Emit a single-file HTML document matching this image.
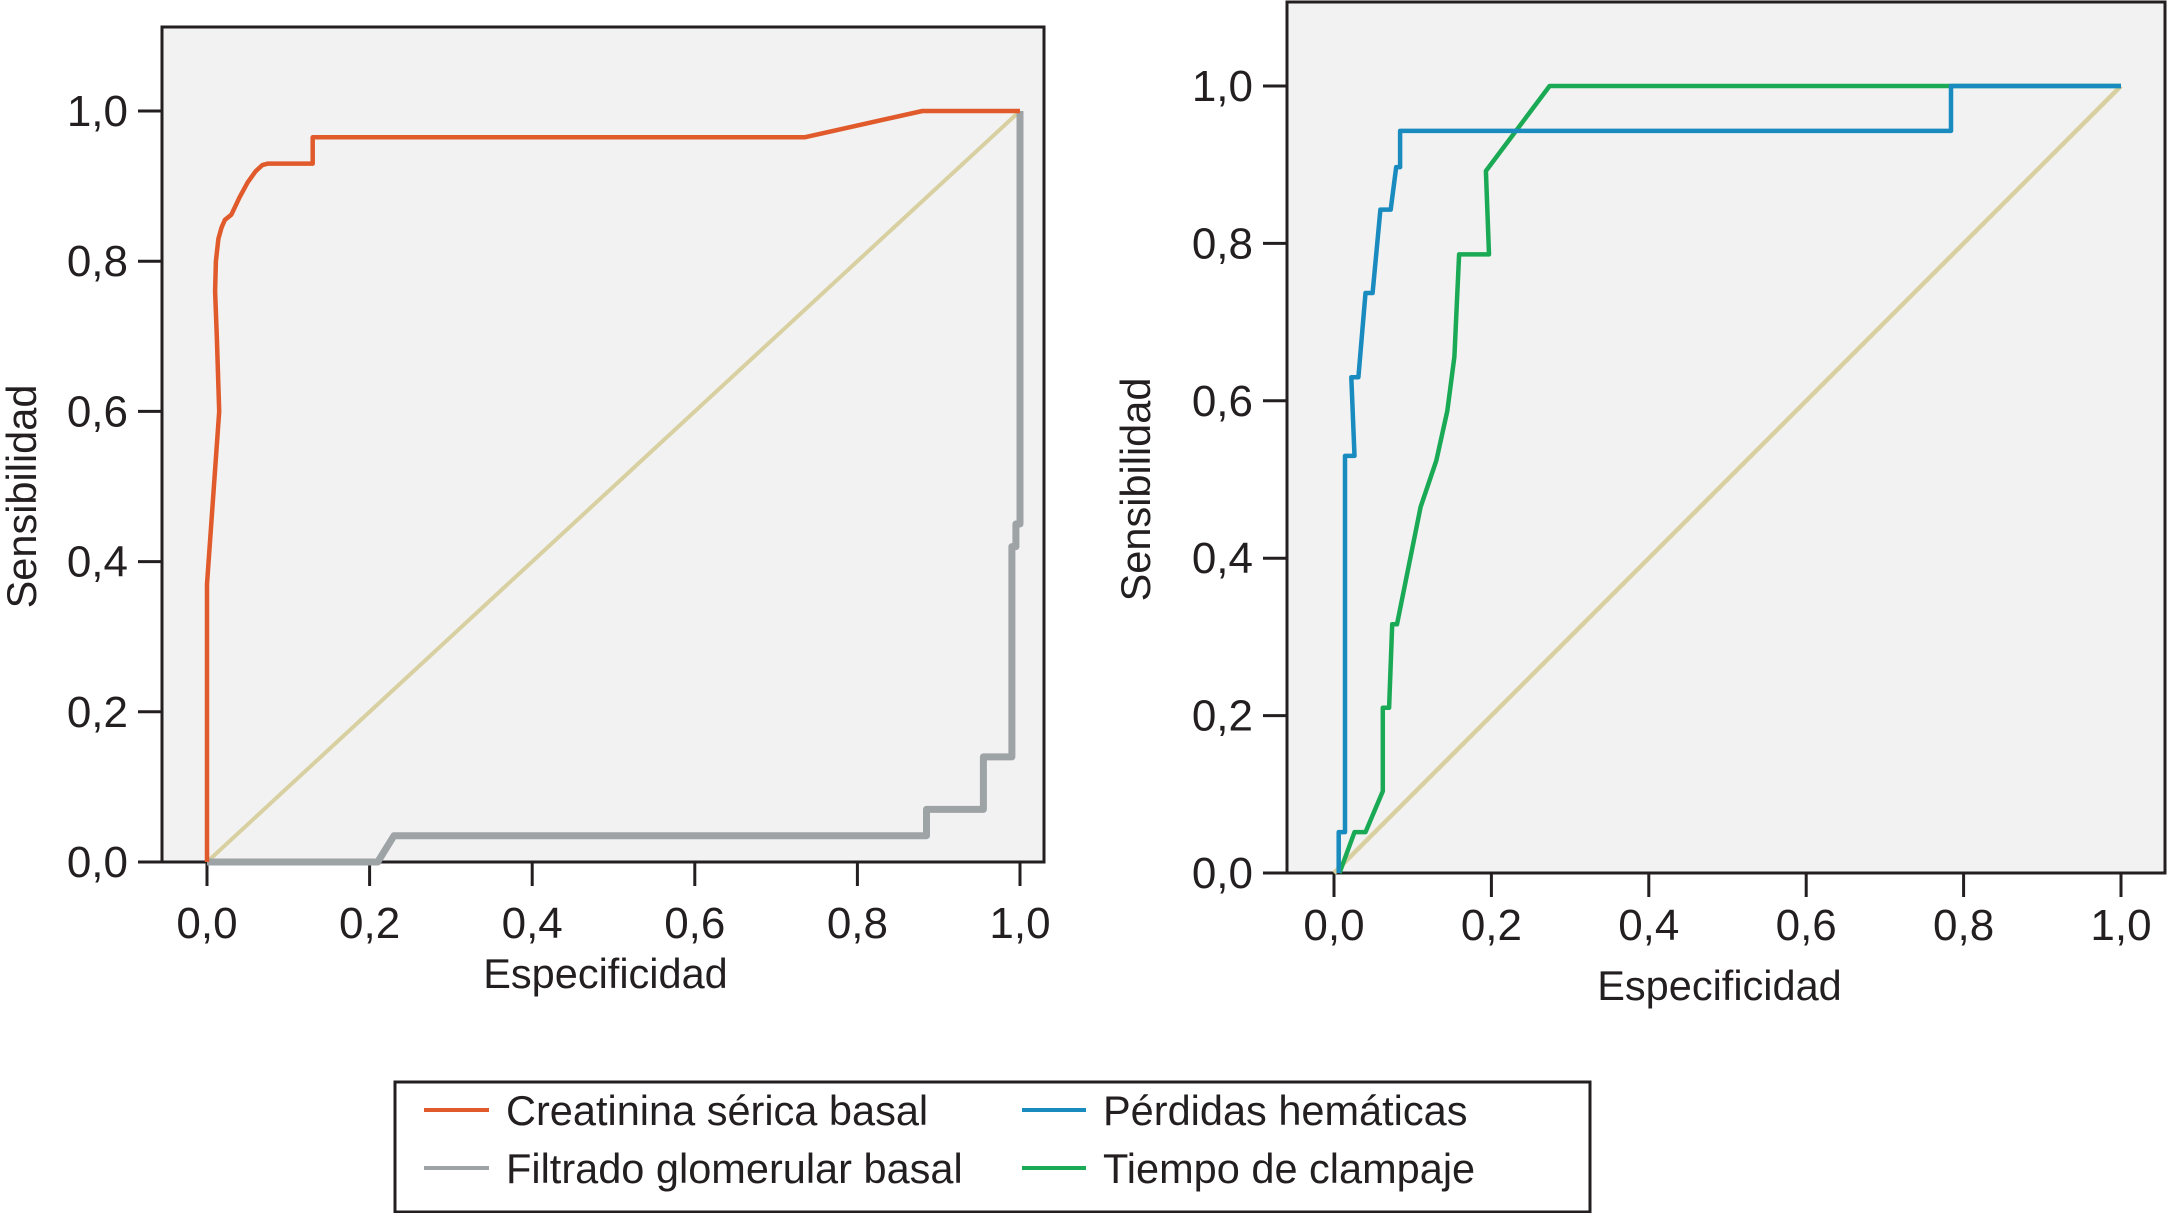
<!DOCTYPE html>
<html><head><meta charset="utf-8"><style>
body{margin:0;background:#fff;}
svg text{font-family:"Liberation Sans",sans-serif;fill:#231f20;}
</style></head><body>
<svg width="2167" height="1213" viewBox="0 0 2167 1213" xmlns="http://www.w3.org/2000/svg">
<g id="left"></g>
<g id="right"></g>
<g>
<rect x="395" y="1082" width="1195" height="130" fill="#fff" stroke="#231f20" stroke-width="3"/>
<g><line x1="424" y1="1110" x2="489" y2="1110" stroke="#e05a2b" stroke-width="4"/><text x="506" y="1125" font-size="41.5">Creatinina sérica basal</text></g>
<g><line x1="424" y1="1168" x2="489" y2="1168" stroke="#9ea3a5" stroke-width="4"/><text x="506" y="1183" font-size="41.5">Filtrado glomerular basal</text></g>
<g><line x1="1022" y1="1110" x2="1086" y2="1110" stroke="#1a8bbf" stroke-width="4"/><text x="1103" y="1125" font-size="41.5">Pérdidas hemáticas</text></g>
<g><line x1="1022" y1="1168" x2="1086" y2="1168" stroke="#1aaa55" stroke-width="4"/><text x="1103" y="1183" font-size="41.5">Tiempo de clampaje</text></g>
</g>
</svg>
<script>
const ticks=[0,0.2,0.4,0.6,0.8,1.0];
const tickLabels=["0,0","0,2","0,4","0,6","0,8","1,0"];
const creatX=[0,0,0.015,0.012,0.01,0.011,0.014,0.018,0.022,0.03,0.04,0.05,0.06,0.068,0.075,0.13,0.13,0.735,0.88,1];
const creatY=[0,0.37,0.6,0.7,0.76,0.8,0.83,0.845,0.855,0.862,0.885,0.905,0.92,0.928,0.93,0.93,0.965,0.965,1,1];
const filtX=[0,0.21,0.23,0.885,0.885,0.955,0.955,0.99,0.99,0.995,0.995,1,1];
const filtY=[0,0,0.035,0.035,0.07,0.07,0.14,0.14,0.42,0.42,0.45,0.45,1];
const perdX=[0.006,0.006,0.014,0.014,0.026,0.022,0.031,0.040,0.049,0.059,0.072,0.079,0.084,0.084,0.784,0.784,1];
const perdY=[0,0.052,0.052,0.53,0.53,0.63,0.63,0.737,0.737,0.843,0.843,0.897,0.897,0.943,0.943,1,1];
const tiempoX=[0.007,0.026,0.040,0.062,0.062,0.070,0.074,0.080,0.110,0.130,0.144,0.153,0.159,0.197,0.193,0.274,1];
const tiempoY=[0,0.052,0.052,0.104,0.21,0.21,0.316,0.316,0.465,0.524,0.587,0.656,0.786,0.786,0.892,1,1];
const diagX=[0,1], diagY=[0,1];
const NS="http://www.w3.org/2000/svg";
function mk(parent,tag,attrs){const e=document.createElementNS(NS,tag);for(const k in attrs)e.setAttribute(k,attrs[k]);parent.appendChild(e);return e;}
function chart(g,cfg,series){
  const sx=v=>cfg.x0+v*(cfg.x1-cfg.x0), sy=v=>cfg.y0+v*(cfg.y1-cfg.y0);
  const bg=mk(g,'rect',{x:cfg.bl,y:cfg.bt,width:cfg.br-cfg.bl,height:cfg.bb-cfg.bt,fill:'#f2f2f2',stroke:'#231f20','stroke-width':3});
  
  
  ticks.forEach((t,i)=>{
    const a=mk(g,'line',{x1:sx(t),x2:sx(t),y1:cfg.bb,y2:cfg.bb+24,stroke:'#231f20','stroke-width':3});
    
    
    const tx=mk(g,'text',{x:sx(t),y:cfg.xly,'font-size':44,'text-anchor':'middle'});tx.textContent=tickLabels[i];
    
    
    const b=mk(g,'line',{x1:cfg.bl-24,x2:cfg.bl,y1:sy(t),y2:sy(t),stroke:'#231f20','stroke-width':3});
    
    
    const ty=mk(g,'text',{x:cfg.bl-34,y:sy(t)+15,'font-size':44,'text-anchor':'end'});ty.textContent=tickLabels[i];
    
    
  });
  const xt=mk(g,'text',{x:(cfg.x0+cfg.x1)/2-8,y:cfg.xty,'font-size':41.5,'text-anchor':'middle'});xt.textContent='Especificidad';
  
  
  const yt=mk(g,'text',{x:0,y:0,'font-size':41.5,'text-anchor':'middle',transform:`translate(${cfg.ytx},${(cfg.y0+cfg.y1)/2+10}) rotate(-90)`});yt.textContent='Sensibilidad';
  
  
  series.forEach(s=>{
    const d=s.x.map((v,i)=>(i?'L':'M')+sx(v).toFixed(1)+','+sy(s.y[i]).toFixed(1)).join(' ');
    const p=mk(g,'path',{d:d,fill:'none',stroke:s.c,'stroke-width':s.w,'stroke-linejoin':'round'});
    
    
  });
}
chart(document.getElementById('left'),{x0:207,x1:1020,y0:862,y1:111,bl:162,br:1044,bt:27,bb:862,xly:938,xty:988,ytx:36},
 [{x:diagX,y:diagY,c:'#d8d0a0',w:4,n:'reference-diagonal'},{x:filtX,y:filtY,c:'#9ea3a5',w:7,n:'filtrado-glomerular-line'},{x:creatX,y:creatY,c:'#e05a2b',w:4.5,n:'creatinina-line'}]);
chart(document.getElementById('right'),{x0:1334,x1:2121,y0:873,y1:86,bl:1287,br:2165,bt:2,bb:873,xly:940,xty:1000,ytx:1150},
 [{x:diagX,y:diagY,c:'#d8d0a0',w:4.5,n:'reference-diagonal'},{x:tiempoX,y:tiempoY,c:'#1aaa55',w:4.5,n:'tiempo-clampaje-line'},{x:perdX,y:perdY,c:'#1a8bbf',w:4.5,n:'perdidas-hematicas-line'}]);
</script>
</body></html>
